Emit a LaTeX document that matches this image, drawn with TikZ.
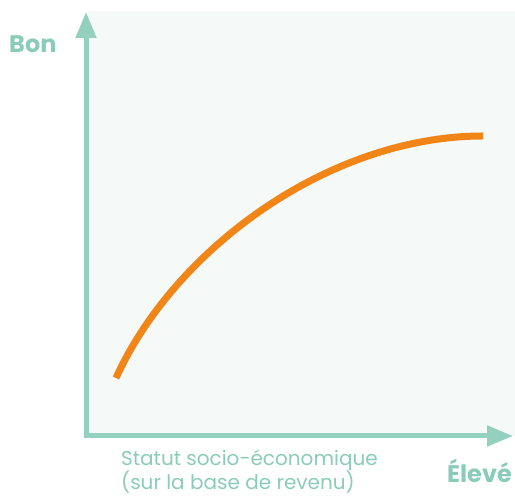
\documentclass[tikz,border=0pt]{standalone}
\usepackage{fontspec}
\setmainfont{Poppins}
\usetikzlibrary{arrows.meta}
\definecolor{teal}{HTML}{8ACCB8}
\definecolor{axisteal}{HTML}{93D1BE}
\definecolor{panel}{HTML}{F5F9F8}
\definecolor{curve}{HTML}{F28518}

\begin{document}
\begin{tikzpicture}[x=1bp, y=1bp,
  axis/.style={draw=axisteal, line width=5bp, -{Triangle[length=26bp, width=20bp]}},
  lbl/.style={inner sep=0pt, text=teal, font=\fontsize{24bp}{24bp}\selectfont}]
\useasboundingbox (0,0) rectangle (515,497);
\fill[panel] (88,61) rectangle (515,486);

\coordinate (o) at (86,61);
\coordinate (ytop) at (86,485);
\coordinate (xend) at (513,61);
\coordinate (c0) at (116,119);
\coordinate (c1) at (483,361);

\draw[axis] ([yshift=-2.5bp]o) -- (ytop);
\draw[axis] ([xshift=-2.5bp]o) -- (xend);

\draw[curve, line width=7bp] (c0) .. controls (175,249) and (330,361) .. (c1);

\node[lbl, font=\fontsize{24bp}{24bp}\bfseries\selectfont, anchor=base west] (bon) at (9,444) {Bon};
\node[lbl, font=\fontsize{24bp}{24bp}\bfseries\selectfont, anchor=base east] (eleve) at (512,14) {Élevé};
\node[lbl, font=\fontsize{20bp}{22bp}\selectfont, anchor=base west, align=left] (statut) at (121,7)
  {Statut socio-économique\\(sur la base de revenu)};
\end{tikzpicture}
\end{document}
